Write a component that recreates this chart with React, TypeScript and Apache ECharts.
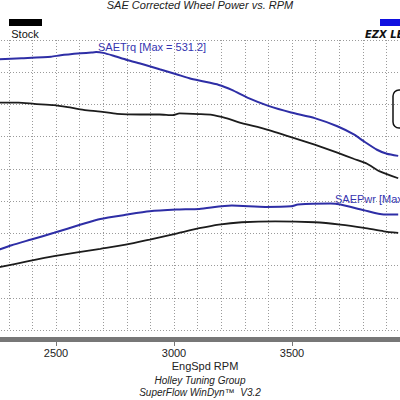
import React, { useEffect, useRef } from "react";
import * as echarts from "echarts";

const chartTitle = "SAE Corrected Wheel Power vs. RPM";
const xAxisTitle = "EngSpd RPM";
const footer1 = "Holley Tuning Group";
const footer2 = "SuperFlow WinDyn™  V3.2";
const legendStock = "Stock";
const legendEzx = "EZX LEVEL";
const trqLabel = "SAETrq [Max = 531.2]";
const pwrLabel = "SAEPwr [Max = 296.1]";
const xTickLabels = [2500, 3000, 3500];

// [rpm, value]
const ezxTorque: [number, number][] = [
  [2260, 520.0], [2354, 521.7], [2479, 524.1], [2520, 526.3], [2605, 529.3],
  [2650, 530.6], [2670, 531.2], [2700, 530.0], [2740, 526.0], [2801, 519.0],
  [2868, 512.4], [2939, 504.6], [3010, 496.9], [3065, 490.7], [3107, 487.0],
  [3190, 480.3], [3245, 472.6], [3316, 459.8], [3400, 447.8], [3496, 437.5],
  [3596, 428.8], [3692, 416.1], [3764, 403.0], [3805, 392.6], [3860, 379.7],
  [3902, 373.5], [3950, 370.2],
];
const stockTorque: [number, number][] = [
  [2260, 452.9], [2341, 452.9], [2408, 450.9], [2492, 448.9], [2550, 445.8],
  [2617, 441.6], [2688, 439.0], [2759, 435.4], [2856, 434.4], [2939, 434.4],
  [2994, 433.4], [3023, 436.0], [3107, 435.0], [3161, 433.9], [3220, 428.8],
  [3287, 421.1], [3387, 411.8], [3496, 399.4], [3596, 387.5], [3692, 375.1],
  [3764, 365.3], [3818, 358.0], [3872, 346.1], [3950, 335.5],
];
const ezxPower: [number, number][] = [
  [2260, 225.0], [2312, 231.6], [2395, 240.4], [2492, 250.8], [2605, 263.6],
  [2688, 272.4], [2801, 279.1], [2897, 284.2], [3010, 286.8], [3107, 287.9],
  [3245, 293.0], [3387, 291.0], [3496, 291.9], [3525, 294.6], [3663, 296.1],
  [3705, 294.6], [3805, 285.8], [3889, 279.1], [3950, 279.1],
];
const stockPower: [number, number][] = [
  [2260, 197.5], [2383, 206.8], [2492, 214.5], [2688, 226.0], [2801, 232.7],
  [2897, 240.4], [3010, 249.7], [3107, 257.9], [3190, 263.6], [3287, 267.2],
  [3429, 268.7], [3596, 267.2], [3705, 263.6], [3805, 258.5], [3889, 253.2],
  [3950, 250.6],
];

const FONT = "Liberation Sans, Arial, sans-serif";
const gridLine = { color: "#9a9a9a", width: 1, type: [1, 2] as number[] };
const blue = "#2e2ea6";
const black = "#1c1c1c";
// the chart's div starts left of the window so that its plot runs off both edges
const OX = 65;

export default function App() {
  const ref = useRef<HTMLDivElement>(null);
  useEffect(() => {
    const chart = echarts.init(ref.current!, null, { renderer: "svg" });
    const T = (x: number) => x + OX;
    chart.setOption({
      animation: false,
      backgroundColor: "#ffffff",
      grid: { left: 0, right: 0, top: 40, bottom: 70 },
      xAxis: {
        type: "value",
        min: 2000,
        max: 4000,
        interval: 500,
        offset: 9,
        axisLine: { show: true, lineStyle: { color: "#777", width: 5 } },
        axisTick: { show: true, length: 7, lineStyle: { color: "#777", width: 1 } },
        axisLabel: {
          margin: 8,
          fontSize: 11,
          fontFamily: FONT,
          color: "#222",
          formatter: (v: number) => (xTickLabels.includes(v) ? String(v) : ""),
        },
        splitLine: { show: true, lineStyle: gridLine },
        minorTick: { show: false, splitNumber: 5 },
        minorSplitLine: { show: true, lineStyle: gridLine },
      },
      yAxis: {
        type: "value",
        min: 100,
        max: 550,
        interval: 50,
        axisLine: { show: false },
        axisTick: { show: false },
        axisLabel: { show: false },
        splitLine: { show: true, lineStyle: gridLine },
      },
      series: [
        { type: "line", data: stockPower, showSymbol: false, smooth: 0.2, lineStyle: { color: black, width: 1.8 } },
        { type: "line", data: stockTorque, showSymbol: false, smooth: 0.2, lineStyle: { color: black, width: 1.8 } },
        { type: "line", data: ezxPower, showSymbol: false, smooth: 0.2, lineStyle: { color: blue, width: 2 } },
        { type: "line", data: ezxTorque, showSymbol: false, smooth: 0.2, lineStyle: { color: blue, width: 2 } },
      ],
      graphic: [
        {
          type: "text", x: T(200), y: 5,
          style: { text: chartTitle, textAlign: "center", textVerticalAlign: "middle", fontSize: 11, fontStyle: "italic", fontFamily: FONT, fill: "#222" },
        },
        { type: "rect", shape: { x: T(9), y: 19, width: 33, height: 7 }, style: { fill: "#000" } },
        {
          type: "text", x: T(25), y: 34,
          style: { text: legendStock, textAlign: "center", textVerticalAlign: "middle", fontSize: 11, fontFamily: FONT, fill: "#111" },
        },
        { type: "rect", shape: { x: T(380), y: 19, width: 40, height: 7 }, style: { fill: "#1010e0" } },
        {
          type: "text", x: T(365), y: 34,
          style: { text: legendEzx, textAlign: "left", textVerticalAlign: "middle", fontSize: 10, fontStyle: "italic", fontWeight: "bold", fontFamily: "DejaVu Sans", fill: "#111" },
        },
        {
          type: "rect", shape: { x: T(393), y: 90, width: 30, height: 38, r: 6 },
          style: { fill: "#fff", stroke: "#111", lineWidth: 1.5 },
        },
        {
          type: "text", x: T(98), y: 47,
          style: { text: trqLabel, textAlign: "left", textVerticalAlign: "middle", fontSize: 11, fontFamily: FONT, fill: "#3434b0" },
        },
        {
          type: "text", x: T(335), y: 199,
          style: { text: pwrLabel, textAlign: "left", textVerticalAlign: "middle", fontSize: 11, fontFamily: FONT, fill: "#3434b0" },
        },
        {
          type: "text", x: T(205), y: 366,
          style: { text: xAxisTitle, textAlign: "center", textVerticalAlign: "middle", fontSize: 11, fontFamily: FONT, fill: "#222" },
        },
        {
          type: "text", x: T(200), y: 380,
          style: { text: footer1, textAlign: "center", textVerticalAlign: "middle", fontSize: 10, fontStyle: "italic", fontFamily: FONT, fill: "#222" },
        },
        {
          type: "text", x: T(200), y: 392,
          style: { text: footer2, textAlign: "center", textVerticalAlign: "middle", fontSize: 10, fontStyle: "italic", fontFamily: FONT, fill: "#222" },
        },
      ],
    });
    return () => chart.dispose();
  }, []);
  return (
    <div
      ref={ref}
      style={{ position: "fixed", left: -OX, top: 0, width: 478, height: 400, background: "#fff" }}
    />
  );
}
